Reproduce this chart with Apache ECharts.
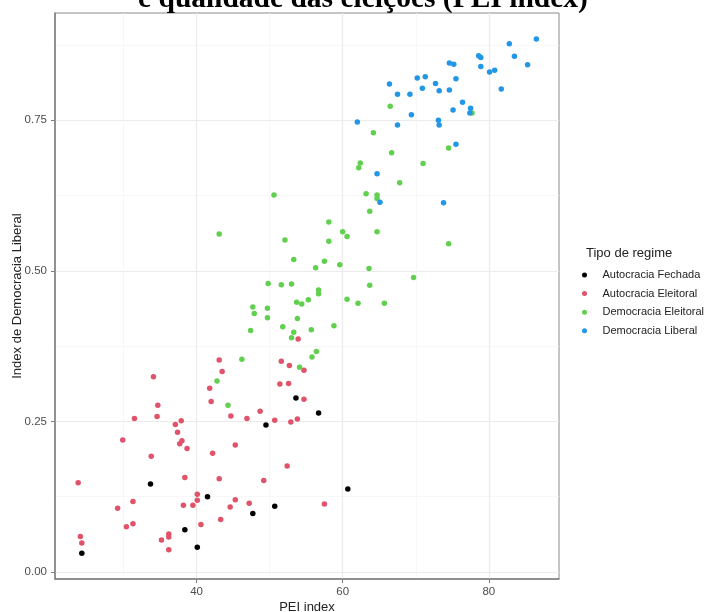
<!DOCTYPE html>
<html>
<head>
<meta charset="utf-8">
<script src="https://cdn.jsdelivr.net/npm/echarts@6/dist/echarts.min.js"></script>
<style>html,body{margin:0;padding:0;background:#fff}#c{width:713px;height:612px}</style>
</head>
<body>
<div id="c"></div>
<script>
const titleText = "e qualidade das eleições (PEI index)";
const xName = "PEI index";
const yName = "Index de Democracia Liberal";
const legendTitle = "Tipo de regime";
const categories = ["Autocracia Fechada", "Autocracia Eleitoral", "Democracia Eleitoral", "Democracia Liberal"];
const xMajorTicks = [40, 60, 80];
const xMinorTicks = [30, 50, 70];
const yMajorTicks = [0, 0.25, 0.5, 0.75];
const yMinorTicks = [0.125, 0.375, 0.625, 0.875];

const autocraciaFechada = [[24.3,0.031],[33.7,0.146],[38.4,0.070],[40.1,0.041],[41.5,0.125],[47.7,0.097],[50.7,0.109],[49.5,0.244],[53.6,0.289],[56.7,0.264],[60.7,0.138]];
const autocraciaEleitoral = [[53.9,0.387],[54.7,0.335],[54.7,0.287],[57.5,0.113],[51.6,0.350],[52.7,0.343],[51.4,0.312],[52.6,0.313],[53.8,0.254],[52.9,0.249],[50.7,0.252],[48.7,0.267],[46.9,0.255],[44.7,0.259],[43.1,0.352],[43.5,0.333],[41.8,0.305],[42.0,0.283],[45.3,0.211],[42.2,0.197],[52.4,0.176],[49.2,0.152],[43.1,0.155],[45.3,0.120],[44.6,0.108],[47.2,0.114],[40.1,0.129],[40.1,0.119],[39.5,0.111],[38.2,0.111],[43.3,0.087],[40.6,0.079],[38.4,0.157],[38.7,0.205],[37.7,0.213],[38.0,0.218],[37.4,0.232],[37.1,0.245],[37.9,0.251],[34.6,0.258],[34.7,0.277],[34.1,0.324],[31.5,0.255],[29.9,0.219],[33.8,0.192],[23.8,0.148],[29.2,0.106],[31.3,0.117],[30.4,0.075],[31.3,0.080],[35.2,0.053],[36.2,0.063],[36.2,0.058],[36.2,0.037],[24.1,0.059],[24.3,0.048]];
const democraciaEleitoral = [[66.5,0.773],[64.2,0.729],[66.7,0.696],[71.0,0.678],[74.5,0.704],[62.4,0.679],[62.2,0.671],[67.8,0.646],[63.2,0.628],[64.7,0.626],[64.7,0.620],[63.7,0.599],[58.1,0.581],[60.0,0.565],[60.6,0.557],[64.7,0.565],[58.1,0.549],[74.5,0.545],[57.5,0.516],[56.3,0.505],[59.6,0.510],[63.6,0.504],[69.7,0.489],[56.7,0.468],[56.7,0.462],[63.7,0.476],[55.3,0.452],[54.4,0.445],[60.6,0.453],[62.1,0.446],[65.7,0.446],[77.7,0.762],[50.6,0.626],[43.1,0.561],[52.1,0.551],[53.3,0.519],[49.8,0.479],[51.6,0.477],[53.0,0.478],[53.7,0.448],[47.7,0.440],[49.7,0.438],[47.9,0.429],[49.7,0.422],[47.4,0.401],[53.8,0.421],[51.8,0.407],[53.3,0.398],[53.0,0.389],[46.2,0.353],[42.8,0.317],[44.3,0.277],[54.1,0.340],[58.8,0.409],[55.7,0.402],[56.4,0.366],[55.8,0.357]];
const democraciaLiberal = [[86.5,0.885],[82.8,0.877],[83.5,0.856],[85.3,0.842],[78.6,0.857],[78.9,0.854],[78.9,0.839],[80.1,0.830],[80.8,0.833],[81.7,0.802],[74.6,0.845],[75.2,0.843],[75.5,0.819],[70.2,0.820],[71.3,0.822],[72.7,0.811],[70.9,0.803],[73.2,0.799],[74.6,0.800],[66.4,0.810],[67.5,0.793],[69.2,0.793],[76.4,0.780],[75.1,0.767],[77.5,0.770],[77.4,0.762],[69.4,0.759],[73.1,0.750],[73.2,0.742],[62.0,0.747],[67.5,0.742],[75.5,0.710],[64.7,0.661],[65.1,0.614],[73.8,0.613]];

const seriesData = [autocraciaFechada, autocraciaEleitoral, democraciaEleitoral, democraciaLiberal];
const colors = ["#000000", "#DF536B", "#61D04F", "#2297E6"];

const X_MIN = 20.63, X_MAX = 89.6, Y_MIN = -0.0116, Y_MAX = 0.928;
const font = "'Liberation Sans', Arial, sans-serif";

const chart = echarts.init(document.getElementById('c'), null, {renderer: 'canvas'});

function mkX(ticks, major) {
  return {
    type: 'value', min: X_MIN, max: X_MAX, gridIndex: 0, position: 'bottom',
    axisLine: {show: major, onZero: false, lineStyle: {color: '#7f7f7f', width: 1.5}},
    axisTick: {show: major, customValues: ticks, length: 4, lineStyle: {color: '#7f7f7f', width: 1}},
    axisLabel: {show: major, customValues: ticks, margin: 7, color: '#4d4d4d', fontSize: 11.5, fontFamily: font},
    splitLine: {show: true, lineStyle: {color: major ? '#ebebeb' : '#f5f5f5', width: major ? 1.2 : 0.8}},
    name: major ? xName : '', nameLocation: 'middle', nameGap: 22, nameMoveOverlap: false,
    nameTextStyle: {color: '#222', fontSize: 13, fontFamily: font}
  };
}
function mkY(ticks, major) {
  return {
    type: 'value', min: Y_MIN, max: Y_MAX, gridIndex: 0, position: 'left',
    axisLine: {show: major, onZero: false, lineStyle: {color: '#7f7f7f', width: 1.5}},
    axisTick: {show: major, customValues: ticks, length: 4, lineStyle: {color: '#7f7f7f', width: 1}},
    axisLabel: {show: major, customValues: ticks, margin: 8, color: '#4d4d4d', fontSize: 11.5, fontFamily: font,
      formatter: v => v.toFixed(2)},
    splitLine: {show: true, lineStyle: {color: major ? '#ebebeb' : '#f5f5f5', width: major ? 1.2 : 0.8}},
    name: major ? yName : '', nameLocation: 'middle', nameGap: 31, nameMoveOverlap: false,
    nameTextStyle: {color: '#222', fontSize: 13, fontFamily: font}
  };
}

const option = {
  backgroundColor: '#fff',
  animation: false,
  title: [
    {text: titleText, left: 133, top: -21,
     textStyle: {fontFamily: "'Liberation Serif', 'Times New Roman', serif", fontWeight: 'bold', fontSize: 29.5, color: '#000'}},
    {text: legendTitle, left: 581, top: 242,
     textStyle: {fontFamily: font, fontWeight: 'normal', fontSize: 13, color: '#222'}}
  ],
  grid: {left: 55, right: 154, top: 13, bottom: 33, show: true, borderColor: '#8a8a8a', borderWidth: 1,
         backgroundColor: 'transparent', containLabel: false, outerBoundsMode: 'none'},
  legend: {
    orient: 'vertical', left: 577, top: 263, icon: 'circle',
    itemWidth: 26, itemHeight: 5, itemGap: 4.6,
    textStyle: {fontFamily: font, fontSize: 11, color: '#222', lineHeight: 14},
    data: categories
  },
  xAxis: [mkX(xMinorTicks, false), mkX(xMajorTicks, true)],
  yAxis: [mkY(yMinorTicks, false), mkY(yMajorTicks, true)],
  series: categories.map((name, i) => ({
    name: name, type: 'scatter', xAxisIndex: 1, yAxisIndex: 1,
    symbol: 'circle', symbolSize: 5.5,
    itemStyle: {color: colors[i], opacity: 1},
    data: seriesData[i]
  }))
};
chart.setOption(option);
</script>
</body>
</html>
